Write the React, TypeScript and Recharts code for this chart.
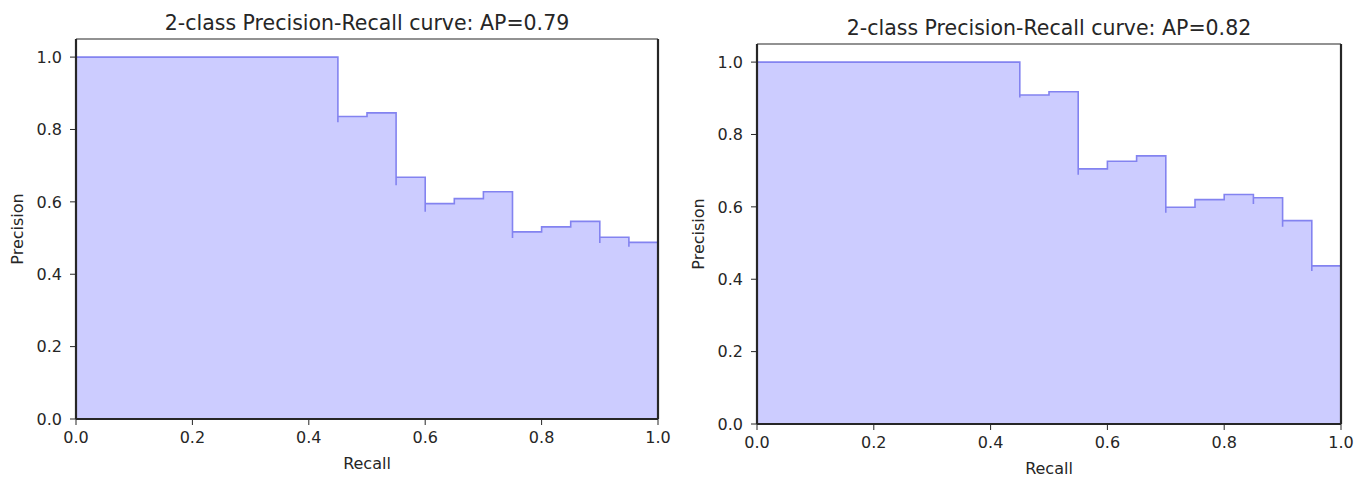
import { AreaChart, Area, XAxis, YAxis } from "recharts";

// recall / precision pairs
const leftRecall = [0, 0.45, 0.45, 0.5, 0.55, 0.55, 0.6, 0.6, 0.65, 0.7, 0.75, 0.75, 0.8, 0.85, 0.9, 0.9, 0.95, 0.95, 1.0];
const leftPrecision = [1.0, 0.82, 0.836, 0.846, 0.646, 0.668, 0.573, 0.595, 0.609, 0.628, 0.5, 0.517, 0.531, 0.546, 0.486, 0.502, 0.476, 0.488, 0.488];

const rightRecall = [0, 0.45, 0.45, 0.5, 0.55, 0.55, 0.6, 0.65, 0.7, 0.7, 0.75, 0.8, 0.85, 0.85, 0.9, 0.9, 0.95, 0.95, 1.0];
const rightPrecision = [1.0, 0.902, 0.909, 0.918, 0.689, 0.705, 0.726, 0.741, 0.584, 0.599, 0.62, 0.634, 0.608, 0.625, 0.545, 0.562, 0.423, 0.437, 0.437];

const xTicks = [0, 0.2, 0.4, 0.6, 0.8, 1.0];
const yTicks = [0, 0.2, 0.4, 0.6, 0.8, 1.0];

const titles = ["2-class Precision-Recall curve: AP=0.79", "2-class Precision-Recall curve: AP=0.82"];

const FONT = "'DejaVu Sans', sans-serif";
const INK = "#262626";
const Y_AXIS_W = 60;
const X_AXIS_H = 40;

interface Box {
  top: number;
  right: number;
  bottom: number;
  left: number;
}

interface PanelProps {
  recall: number[];
  precision: number[];
  title: string;
  x: number;
  width: number;
  plot: Box; // distances of the plot frame from the panel edges
}

function PRPanel({ recall, precision, title, x, width, plot }: PanelProps) {
  const height = 477;
  const data = recall.map((r, i) => ({ recall: r, precision: precision[i] }));
  const margin = {
    top: plot.top - 1,
    right: plot.right - 1,
    bottom: plot.bottom - X_AXIS_H,
    left: plot.left - Y_AXIS_W,
  };
  const plotW = width - plot.left - plot.right;
  const plotH = height - plot.top - plot.bottom;
  const cx = plot.left + plotW / 2;
  const cy = plot.top + plotH / 2;
  const tick = { fontSize: 16, fill: INK, fontFamily: FONT };
  // the fill covers half of the left/bottom spines, so draw them wider
  const spine = { stroke: INK, strokeWidth: 2.2 };

  return (
    <div style={{ position: "absolute", left: x, top: 0, width, height }}>
      <AreaChart width={width} height={height} data={data} margin={margin}>
        <Area
          type="stepAfter"
          dataKey="precision"
          stroke="#8383f0"
          strokeWidth={1.6}
          fill="#ccccff"
          fillOpacity={1}
          dot={false}
          activeDot={false}
          isAnimationActive={false}
        />
        <XAxis
          dataKey="recall"
          type="number"
          domain={[0, 1]}
          ticks={xTicks}
          tickFormatter={(v: number) => v.toFixed(1)}
          height={X_AXIS_H}
          tick={tick}
          tickSize={6}
          tickMargin={7}
          tickLine={{ stroke: INK }}
          axisLine={spine}
        />
        <YAxis
          type="number"
          domain={[0, 1.05]}
          ticks={yTicks}
          tickFormatter={(v: number) => v.toFixed(1)}
          width={Y_AXIS_W}
          tick={tick}
          tickSize={6}
          tickMargin={8}
          tickLine={{ stroke: INK }}
          axisLine={spine}
        />
        <XAxis
          xAxisId="top"
          orientation="top"
          dataKey="recall"
          type="number"
          domain={[0, 1]}
          height={1}
          tick={false}
          tickLine={false}
          axisLine={{ stroke: INK, strokeWidth: 1.2 }}
        />
        <YAxis
          yAxisId="right"
          orientation="right"
          type="number"
          domain={[0, 1.05]}
          width={1}
          tick={false}
          tickLine={false}
          axisLine={spine}
        />
      </AreaChart>
      <svg
        width={width}
        height={height}
        style={{ position: "absolute", left: 0, top: 0, pointerEvents: "none" }}
        fontFamily={FONT}
        fill={INK}
      >
        <text x={cx} y={plot.top - 9} textAnchor="middle" fontSize={20.5}>
          {title}
        </text>
        <text x={cx} y={height - plot.bottom + 44} dy="0.35em" textAnchor="middle" fontSize={16}>
          Recall
        </text>
        <text
          x={plot.left - 59}
          y={cy}
          dy="0.35em"
          textAnchor="middle"
          fontSize={16}
          transform={`rotate(-90, ${plot.left - 59}, ${cy})`}
        >
          Precision
        </text>
      </svg>
    </div>
  );
}

export default function App() {
  return (
    <div style={{ position: "absolute", left: 0, top: 0, width: 1355, height: 477, background: "#fff" }}>
      <PRPanel
        recall={leftRecall}
        precision={leftPrecision}
        title={titles[0]}
        x={0}
        width={680}
        plot={{ top: 39, right: 22, bottom: 58, left: 76 }}
      />
      <PRPanel
        recall={rightRecall}
        precision={rightPrecision}
        title={titles[1]}
        x={680}
        width={675}
        plot={{ top: 44, right: 14, bottom: 53, left: 77 }}
      />
    </div>
  );
}
